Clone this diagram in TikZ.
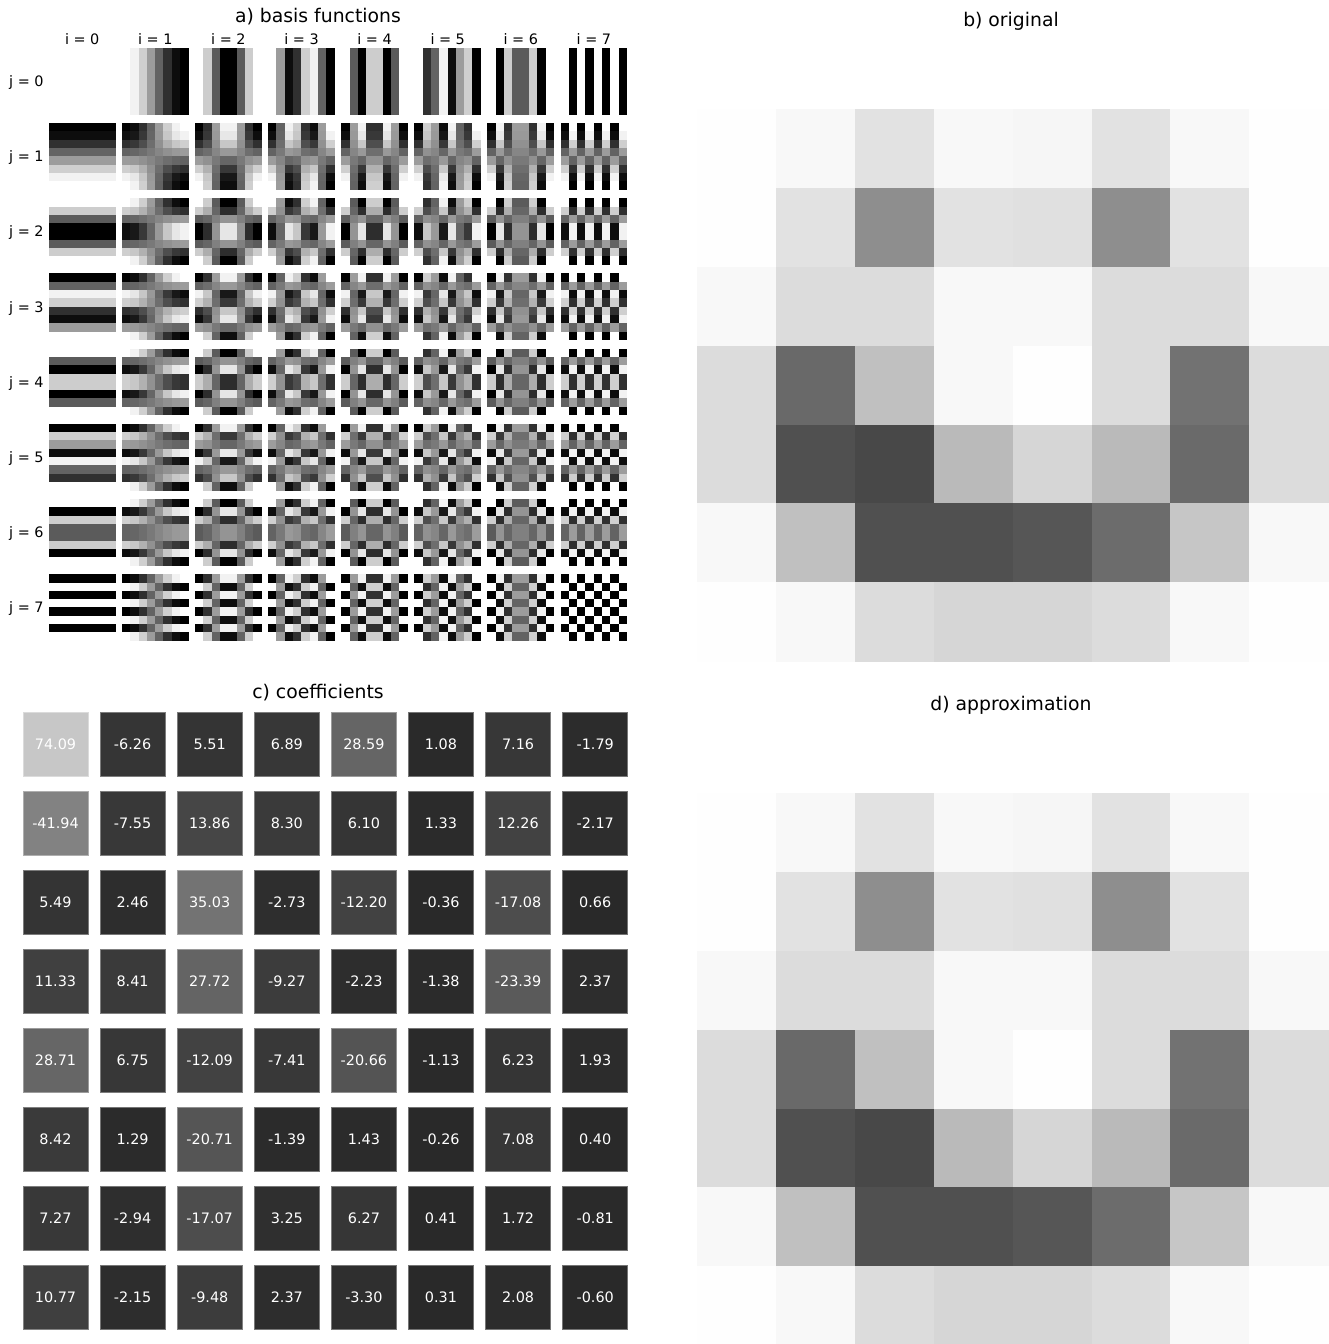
\documentclass[tikz,border=0pt]{standalone}
\usepackage{fontspec}
\setmainfont{DejaVu Sans}
\usepackage{tikz}

\begin{document}
\begin{tikzpicture}[
  x=0.5pt, y=-0.5pt,
  every node/.style={font=\fontsize{7.2}{8}\selectfont, inner sep=0pt},
  ttl/.style={font=\fontsize{9.4}{11}\selectfont, anchor=base},
  tk/.style={anchor=base},
  cbox/.style={line width=0.3pt, text=white,
    minimum width=32.5pt, minimum height=32pt}
]
  \fill[white] (0,0) rectangle (1328,1344);
  \useasboundingbox (0,0) rectangle (1328,1344);

  % a) basis functions
  \node[ttl] (ta) at (318,22) {a) basis functions};
  \foreach \i in {0,...,7} {
    \node[tk] (ti\i) at ({82.2+73.1*\i},44) {i = \i};
    \node[tk,anchor=base east] (tj\i) at (44,{86.4+75.2*\i}) {j = \i};
  }
  \foreach \i in {0,...,7} {
    \foreach \j in {0,...,7} {
      \pgfmathtruncatemacro\ij{\i+\j}
      \ifnum\ij>0
        \pgfmathsetmacro\mx{ifthenelse(\i==0,1,ifthenelse(mod(\i,2)==1,-1,cos(1080/7)))}
        \pgfmathsetmacro\my{ifthenelse(\j==0,1,ifthenelse(mod(\j,2)==1,-1,cos(1080/7)))}
        \pgfmathsetmacro\m{min(\mx,\my)}
        \foreach \x in {0,...,7} {
          \foreach \r in {0,...,7} {
            \pgfmathsetmacro\p{100*(1-(cos(180*\i*\x/7)*cos(180*\j*(7-\r)/7)-\m)/(1-\m))}
            \pgfmathsetmacro\p{max(0,min(100,\p))}
            \fill[black!\p] ({48.8+73.1*\i+8.3*\x},{47.8+75.2*\j+8.3*\r}) rectangle +(8.7,8.7);
          }
        }
      \fi
    }
  }

  % b) original and d) approximation
  \node[ttl] (tb) at (1011,26) {b) original};
  \node[ttl] (td) at (1011,710) {d) approximation};
  \foreach \row [count=\r from 0] in {
      {255,255,255,255,255,255,255,255},
      {254,248,226,248,246,226,248,254},
      {254,226,142,226,224,142,226,254},
      {248,220,220,248,248,220,220,248},
      {220,105,192,248,254,220,114,220},
      {220,80,72,186,214,186,106,220},
      {248,192,80,80,86,108,198,248},
      {254,248,220,214,214,220,248,254}} {
    \foreach \g [count=\c from 0] in \row {
      \definecolor{pix}{RGB}{\g,\g,\g}
      \fill[pix] ({697+78.9*\c},{30+78.9*\r}) rectangle +(79.3,79.3);
      \fill[pix] ({697+78.9*\c},{714+78.9*\r}) rectangle +(79.3,79.3);
    }
  }

  % c) coefficients
  \node[ttl] (tc) at (318,698) {c) coefficients};
  \foreach \row [count=\j from 0] in {
      {74.09,-6.26,5.51,6.89,28.59,1.08,7.16,-1.79},
      {-41.94,-7.55,13.86,8.30,6.10,1.33,12.26,-2.17},
      {5.49,2.46,35.03,-2.73,-12.20,-0.36,-17.08,0.66},
      {11.33,8.41,27.72,-9.27,-2.23,-1.38,-23.39,2.37},
      {28.71,6.75,-12.09,-7.41,-20.66,-1.13,6.23,1.93},
      {8.42,1.29,-20.71,-1.39,1.43,-0.26,7.08,0.40},
      {7.27,-2.94,-17.07,3.25,6.27,0.41,1.72,-0.81},
      {10.77,-2.15,-9.48,2.37,-3.30,0.31,2.08,-0.60}} {
    \foreach \v [count=\i from 0] in \row {
      \pgfmathsetmacro\p{100*(1-(0.157+0.00842*abs(\v)))}
      \colorlet{cf}{black!\p}
      \node[cbox, fill=cf, draw=cf!65!white] (c\j-\i) at ({55.5+77.1*\i},{744+79.1*\j}) {\v};
    }
  }
\end{tikzpicture}
\end{document}
